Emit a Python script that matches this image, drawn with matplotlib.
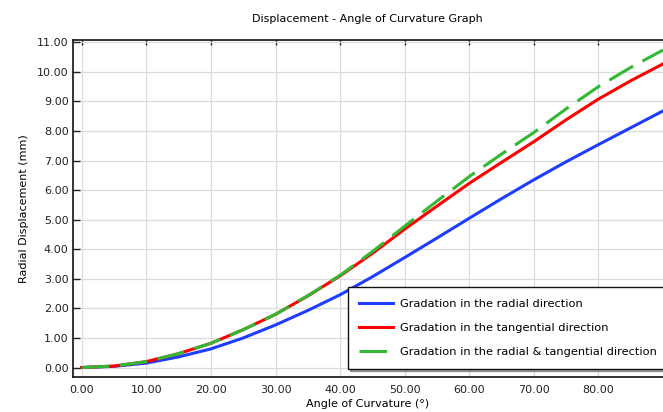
import numpy as np
import matplotlib
matplotlib.use("Agg")
import matplotlib.pyplot as plt

# angle of curvature (deg)
angle = [0, 5, 10, 15, 20, 25, 30, 35, 40, 45, 50, 55, 60, 65, 70, 75, 80, 85, 90]

# radial displacement (mm)
radial = [0, 0.04, 0.15, 0.36, 0.63, 1.00, 1.44, 1.93, 2.46, 3.07, 3.72, 4.38,
          5.05, 5.71, 6.35, 6.96, 7.54, 8.11, 8.68]
tangential = [0, 0.05, 0.20, 0.47, 0.82, 1.28, 1.80, 2.42, 3.10, 3.86, 4.68, 5.46,
              6.23, 6.94, 7.64, 8.38, 9.08, 9.70, 10.27]
both = [0, 0.05, 0.20, 0.47, 0.82, 1.28, 1.80, 2.43, 3.12, 3.92, 4.78, 5.63,
        6.46, 7.22, 7.95, 8.75, 9.50, 10.15, 10.74]

labels = ["Gradation in the radial direction",
          "Gradation in the tangential direction",
          "Gradation in the radial & tangential direction"]

xticks = np.arange(0, 90, 10)
yticks = np.arange(0, 12, 1)

plt.rcParams['font.family'] = ['DejaVu Sans']
plt.rcParams['font.size'] = 8

fig = plt.figure(figsize=(6.63, 4.12), dpi=100)
ax = fig.add_axes([0.1097, 0.085, 0.8903, 0.818])

ax.plot(angle, radial, color='#1f3dff', lw=2.2, label=labels[0])
ax.plot(angle, tangential, color='#ff0000', lw=2.2, label=labels[1])
ax.plot(angle, both, color='#33b833', lw=2.2, ls=(0, (9, 3.5)), label=labels[2])

ax.set_xlim(-1.4, 90)
ax.set_ylim(-0.32, 11.08)
ax.set_xticks(xticks)
ax.set_yticks(yticks)
ax.set_xticklabels([f"{v:.2f}" for v in xticks])
ax.set_yticklabels([f"{v:.2f}" for v in yticks])
ax.grid(True, color='#dcdcdc', lw=0.9)
ax.set_axisbelow(True)

ax.tick_params(axis='x', bottom=False, top=True, labelbottom=True,
               direction='in', length=3.5, width=1, pad=6, colors='#222222')
ax.tick_params(axis='y', left=True, direction='in', length=5, width=1,
               pad=3, colors='#222222')
for s in ['left', 'bottom', 'top']:
    ax.spines[s].set_color('#111111')
    ax.spines[s].set_linewidth(1.2)
ax.spines['right'].set_visible(False)

ax.set_title("Displacement - Angle of Curvature Graph", pad=13, fontsize=8)
ax.set_xlabel("Angle of Curvature (°)", labelpad=3)
ax.set_ylabel("Radial Displacement (mm)", labelpad=6)

leg = ax.legend(loc='upper left', bbox_to_anchor=(0.4657, 0.266),
                borderaxespad=0, fancybox=False, shadow=True,
                handlelength=3.0, handletextpad=0.6, labelspacing=1.25,
                borderpad=1.0, framealpha=1, fontsize=8.2)
leg.get_frame().set_edgecolor('#111111')
leg.get_frame().set_linewidth(1.0)

fig.savefig("out.png", dpi=100)
